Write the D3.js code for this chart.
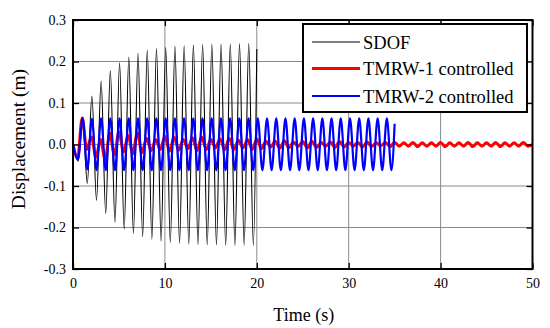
<!DOCTYPE html>
<html>
<head>
<meta charset="utf-8">
<script src="https://cdn.jsdelivr.net/npm/d3@7"></script>
<style>
  html, body { margin: 0; padding: 0; background: #fff; }
  svg { display: block; }
  text { font-family: "Liberation Serif", "Times New Roman", serif; fill: #000; }
</style>
</head>
<body>
<svg id="chart" width="550" height="328"></svg>
<script>
// ---------------- data ----------------
const xTicks = [0, 10, 20, 30, 40, 50];
const xTickLabels = ["0", "10", "20", "30", "40", "50"];
const yTicks = [-0.3, -0.2, -0.1, 0.0, 0.1, 0.2, 0.3];
const yTickLabels = ["-0.3", "-0.2", "-0.1", "0.0", "0.1", "0.2", "0.3"];

const seriesNames = ["SDOF", "TMRW-1 controlled", "TMRW-2 controlled"];
const seriesColors = ["#000000", "#ff0000", "#0000ff"];

// SDOF: first extremum time, half period, troughs and peaks per cycle, end point
const sdofStart = 0.55, sdofHalf = 0.502, sdofEnd = [20, 0.23];
const sdofTroughs = [-0.040, -0.094, -0.135, -0.166, -0.187, -0.204, -0.214, -0.222, -0.228, -0.233,
                     -0.236, -0.238, -0.240, -0.241, -0.242, -0.242, -0.243, -0.243, -0.243, -0.243];
const sdofPeaks   = [0.060, 0.117, 0.153, 0.178, 0.197, 0.210, 0.220, 0.227, 0.231, 0.234,
                     0.237, 0.238, 0.240, 0.241, 0.242, 0.242, 0.242, 0.243, 0.243];

// TMRW-1 controlled (red)
const red1Start = 0.5, red1Half = 0.5, red1End = [50, 0.0];
const red1Troughs = [-0.033, -0.012, -0.030, -0.036, -0.025, -0.018, -0.022, -0.020, -0.015, -0.012,
                     -0.016, -0.014, -0.010, -0.015, -0.012, -0.008, -0.013, -0.012, -0.008, -0.012,
                     -0.010, -0.006, -0.009, -0.008, -0.005, -0.008, -0.007, -0.004, -0.007, -0.006,
                     -0.004, -0.006, -0.005, -0.003, -0.005, -0.004, -0.004, -0.005, -0.004, -0.004,
                     -0.005, -0.004, -0.004, -0.005, -0.004, -0.004, -0.005, -0.004, -0.004, -0.004];
const red1Peaks   = [0.064, 0.018, 0.012, 0.027, 0.030, 0.022, 0.028, 0.015, 0.012, 0.020,
                     0.018, 0.012, 0.016, 0.018, 0.012, 0.014, 0.015, 0.010, 0.012, 0.013,
                     0.008, 0.008, 0.009, 0.006, 0.007, 0.008, 0.005, 0.006, 0.007, 0.005,
                     0.005, 0.006, 0.004, 0.005, 0.005, 0.004, 0.005, 0.004, 0.004, 0.005,
                     0.004, 0.004, 0.005, 0.004, 0.004, 0.005, 0.004, 0.004, 0.005];

// TMRW-2 controlled (blue)
const blue2Start = 0.55, blue2Half = 0.5015, blue2End = [35, 0.05];
const blue2Troughs = [-0.036, -0.060, -0.062, -0.062, -0.062, -0.062, -0.062, -0.062, -0.062, -0.062,
                      -0.062, -0.062, -0.062, -0.062, -0.062, -0.062, -0.062, -0.062, -0.062, -0.062,
                      -0.062, -0.062, -0.062, -0.062, -0.062, -0.062, -0.062, -0.062, -0.062, -0.062,
                      -0.062, -0.062, -0.062, -0.062, -0.062];
const blue2Peaks   = [0.064, 0.062, 0.063, 0.063, 0.063, 0.063, 0.063, 0.063, 0.063, 0.063,
                      0.063, 0.063, 0.063, 0.063, 0.063, 0.063, 0.063, 0.063, 0.063, 0.063,
                      0.063, 0.063, 0.063, 0.063, 0.063, 0.063, 0.063, 0.063, 0.063, 0.063,
                      0.063, 0.063, 0.063, 0.063];

// ---------------- build point lists from the extrema ----------------
function buildSeries(start, half, troughs, peaks, end) {
  const pts = [[0, 0]];
  const n = troughs.length + peaks.length;
  for (let i = 0; i < n; i++) {
    const k = Math.floor(i / 2);
    const v = (i % 2 === 0) ? troughs[k] : peaks[k];
    const t = start + half * i;
    if (v === undefined || t >= end[0]) break;
    pts.push([t, v]);
  }
  pts.push(end);
  return pts;
}
const series = [
  buildSeries(sdofStart, sdofHalf, sdofTroughs, sdofPeaks, sdofEnd),
  buildSeries(red1Start, red1Half, red1Troughs, red1Peaks, red1End),
  buildSeries(blue2Start, blue2Half, blue2Troughs, blue2Peaks, blue2End)
];
const widths = [1.1, 3, 2.2];

// ---------------- chart ----------------
const svg = d3.select("#chart");
const L = 73, R = 532.5, T = 20, B = 269;
const x = d3.scaleLinear().domain([0, 50]).range([L, R]);
const y = d3.scaleLinear().domain([-0.3, 0.3]).range([B, T]);

// grid
const grid = svg.append("g").attr("stroke", "#8a8a8a").attr("stroke-width", 1);
grid.selectAll("line.gx").data(xTicks.slice(1, -1)).enter().append("line")
  .attr("x1", d => x(d)).attr("x2", d => x(d)).attr("y1", T).attr("y2", B);
grid.selectAll("line.gy").data(yTicks.slice(1, -1)).enter().append("line")
  .attr("y1", d => y(d)).attr("y2", d => y(d)).attr("x1", L).attr("x2", R);

// data lines
const clip = svg.append("clipPath").attr("id", "plotclip").append("rect")
  .attr("x", L).attr("y", T).attr("width", R - L).attr("height", B - T);
const line = d3.line().x(d => x(d[0])).y(d => y(d[1])).curve(d3.curveMonotoneX);
const lines = svg.append("g").attr("clip-path", "url(#plotclip)");
series.forEach((s, i) => {
  lines.append("path").datum(s)
    .attr("fill", "none").attr("stroke", seriesColors[i])
    .attr("stroke-width", widths[i]).attr("stroke-linejoin", "round")
    .attr("d", line);
});

// axes
const fx = d => xTickLabels[xTicks.indexOf(d)];
const fy = d => yTickLabels[yTicks.findIndex(v => Math.abs(v - d) < 1e-9)];
const axStyle = g => {
  g.select(".domain").remove();
  g.selectAll(".tick line").attr("stroke", "#000").attr("stroke-width", 1.3);
  g.selectAll("text").attr("font-size", "14px").attr("font-family", "Liberation Serif, serif").attr("fill", "#000");
};
svg.append("g").attr("transform", `translate(0,${B})`)
  .call(d3.axisBottom(x).tickValues(xTicks).tickFormat(fx).tickSizeInner(-6).tickSizeOuter(0).tickPadding(9))
  .call(axStyle);
svg.append("g").attr("transform", `translate(${L},0)`)
  .call(d3.axisLeft(y).tickValues(yTicks).tickFormat(fy).tickSizeInner(-6).tickSizeOuter(0).tickPadding(7))
  .call(axStyle);
svg.append("g").attr("transform", `translate(0,${T})`)
  .call(d3.axisTop(x).tickValues(xTicks).tickFormat("").tickSizeInner(-6).tickSizeOuter(0))
  .call(axStyle);
svg.append("g").attr("transform", `translate(${R},0)`)
  .call(d3.axisRight(y).tickValues(yTicks).tickFormat("").tickSizeInner(-6).tickSizeOuter(0))
  .call(axStyle);

// frame
svg.append("rect").attr("x", L).attr("y", T).attr("width", R - L).attr("height", B - T)
  .attr("fill", "none").attr("stroke", "#000").attr("stroke-width", 2);

// axis titles
svg.append("text").attr("x", (L + R) / 2 + 1).attr("y", 321)
  .attr("text-anchor", "middle").attr("font-size", "18px").text("Time (s)");
svg.append("text").attr("transform", "translate(25,139) rotate(-90)")
  .attr("text-anchor", "middle").attr("font-size", "19.5px").text("Displacement (m)");

// legend
const lg = svg.append("g");
lg.append("rect").attr("x", 303).attr("y", 24).attr("width", 224).attr("height", 88)
  .attr("fill", "#fff").attr("stroke", "#000").attr("stroke-width", 2);
const rowY = [42, 68.5, 96];
seriesNames.forEach((name, i) => {
  lg.append("line").attr("x1", 312).attr("x2", 360).attr("y1", rowY[i]).attr("y2", rowY[i])
    .attr("stroke", seriesColors[i]).attr("stroke-width", i === 0 ? 1.2 : (i === 1 ? 3 : 2));
  lg.append("text").attr("x", 363).attr("y", rowY[i] + 6.5)
    .attr("font-size", "18.5px").text(name);
});
</script>
</body>
</html>
